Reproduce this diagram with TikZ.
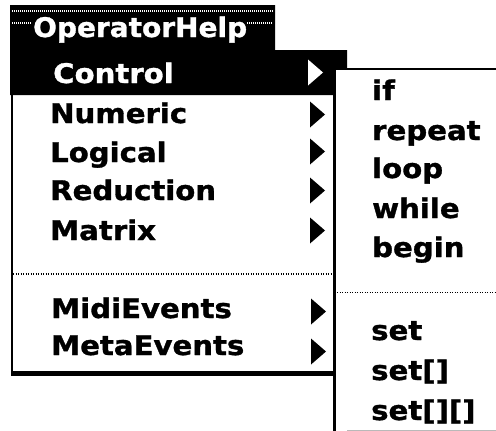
\documentclass[tikz,border=0pt]{standalone}
\usepackage{fontspec}
\newfontfamily\menufont{DejaVu Sans}[FakeStretch=1.08, FakeBold=1.2]
\tikzset{
  label/.style={anchor=base west, inner sep=0pt,
    font=\menufont\bfseries\fontsize{27}{32}\selectfont},
  onblack/.style={label, text=white},
  separator/.style={line width=1.5pt, dash pattern=on 1.2pt off 1.3pt},
  titlestripe/.style={white, line width=1.2pt, dash pattern=on 1pt off 1pt},
  pics/submark/.style={code={\fill[#1] (0,-13) -- (15,0) -- (0,13) -- cycle;}},
}
\begin{document}
\begin{tikzpicture}[x=1pt,y=-1pt]
\useasboundingbox (0,0) rectangle (496,431);

% main menu body
\fill[white] (12,50) rectangle (334,374);
\draw[line width=2pt] (12,95) -- (12,376);
\fill (11,371) rectangle (334,376);

% title bar and highlighted row
\fill (10,5) -- (275,5) -- (275,50) -- (347,50) -- (347,69) -- (333,69)
      -- (333,95) -- (10,95) -- cycle;
\draw[titlestripe] (12,11) -- (273,11);
\draw[titlestripe] (12,23) -- (31,23);
\draw[titlestripe] (247,23) -- (273,23);

% main menu separator
\draw[separator] (13,274) -- (333,274);

% submenu
\fill[white] (335,69) rectangle (496,431);
\draw[line width=2pt] (333,69) -- (496,69);
\draw[line width=3pt] (334.5,68) -- (334.5,431);
\draw[gray!55, line width=1pt] (347,430) -- (496,430);
\draw[separator] (337,292.5) -- (496,292.5);

% title and main menu entries
\node[onblack, xscale=0.96, transform shape] (title) at (33,37) {OperatorHelp};
\node[onblack] (control) at (53,83) {Control};
\node[label] (numeric) at (50,123) {Numeric};
\node[label] (logical) at (50,162) {Logical};
\node[label] (reduction) at (50,200) {Reduction};
\node[label] (matrix) at (50,240) {Matrix};
\node[label] (midi) at (51,318) {MidiEvents};
\node[label] (meta) at (51,355) {MetaEvents};

% submenu indicators
\pic at (308,72.5) {submark=white};
\pic at (310,114.5) {submark=black};
\pic at (310,151.5) {submark=black};
\pic at (310,190.5) {submark=black};
\pic at (310,230.5) {submark=black};
\pic at (311,311.5) {submark=black};
\pic at (311,351.5) {submark=black};

% submenu entries
\node[label] (if) at (372,100) {if};
\node[label] (repeat) at (372,140) {repeat};
\node[label] (loop) at (372,178) {loop};
\node[label] (while) at (372,218) {while};
\node[label] (begin) at (372,257) {begin};
\node[label] (set) at (371,340) {set};
\node[label] (setone) at (371,380) {set[]};
\node[label] (settwo) at (371,420) {set[][]};
\end{tikzpicture}
\end{document}
